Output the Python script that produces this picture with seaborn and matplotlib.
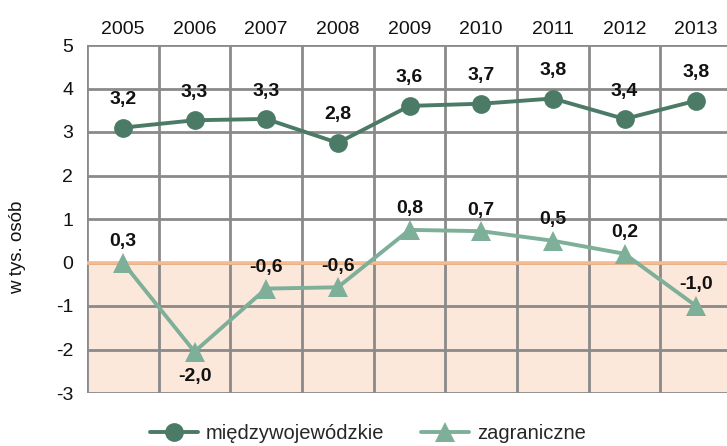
import matplotlib
matplotlib.use("Agg")
import matplotlib.pyplot as plt
import seaborn as sns
import pandas as pd
import numpy as np
from matplotlib.lines import Line2D

years = ["2005", "2006", "2007", "2008", "2009", "2010", "2011", "2012", "2013"]
miedzy_values = [3.1, 3.27, 3.3, 2.75, 3.6, 3.65, 3.77, 3.3, 3.72]
miedzy_labels = ["3,2", "3,3", "3,3", "2,8", "3,6", "3,7", "3,8", "3,4", "3,8"]
zagr_values = [0.0, -2.05, -0.6, -0.57, 0.75, 0.72, 0.5, 0.2, -1.0]
zagr_labels = ["0,3", "-2,0", "-0,6", "-0,6", "0,8", "0,7", "0,5", "0,2", "-1,0"]
yticks = [5, 4, 3, 2, 1, 0, -1, -2, -3]

sns.set_theme(style="white")
plt.rcParams["font.family"] = ["Liberation Sans", "DejaVu Sans"]

dark = "#4B7A66"
light = "#7DAF99"
grid = "#8A8A8A"

fig = plt.figure(figsize=(7.27, 4.46), dpi=100)
ax = fig.add_axes([87 / 727, 53 / 446, 640 / 727, 348 / 446])

ax.axhspan(-3, 0, color="#FCE8DA", zorder=0)

for y in yticks:
    ax.axhline(y, color=grid, lw=2.0, zorder=1)
for i in range(len(years) + 1):
    ax.axvline(i - 0.5, color=grid, lw=2.0, zorder=1)
ax.axhline(0, color="#F8B98C", lw=2.6, zorder=2)

df = pd.DataFrame({
    "x": list(range(len(years))) * 2,
    "v": miedzy_values + zagr_values,
    "s": ["międzywojewódzkie"] * len(years) + ["zagraniczne"] * len(years),
})
sns.lineplot(data=df[df.s == "międzywojewódzkie"], x="x", y="v", ax=ax, color=dark,
             lw=2.8, marker="o", markersize=13.5, markeredgewidth=0, zorder=4, legend=False)
sns.lineplot(data=df[df.s == "zagraniczne"], x="x", y="v", ax=ax, color=light,
             lw=2.8, marker="^", markersize=14, markeredgewidth=0, zorder=4, legend=False)

lfs = 14
for i, (v, t) in enumerate(zip(miedzy_values, miedzy_labels)):
    ax.annotate(t, (i, v), xytext=(0, 14), textcoords="offset points",
                ha="center", va="bottom", fontsize=lfs, fontweight="bold", color="#111111", zorder=5)
zmin = int(np.argmin(zagr_values))
for i, (v, t) in enumerate(zip(zagr_values, zagr_labels)):
    if i == zmin:
        ax.annotate(t, (i, v), xytext=(0, -12), textcoords="offset points",
                    ha="center", va="top", fontsize=lfs, fontweight="bold", color="#111111", zorder=5)
    else:
        ax.annotate(t, (i, v), xytext=(0, 9), textcoords="offset points",
                    ha="center", va="bottom", fontsize=lfs, fontweight="bold", color="#111111", zorder=5)

ax.set_xlim(-0.5, 8.43)
ax.set_ylim(-3, 5)
ax.set_yticks(yticks)
ax.set_yticklabels([str(y) for y in yticks], fontsize=14)
ax.set_xticks(range(len(years)))
ax.set_xticklabels(years, fontsize=14)
ax.xaxis.tick_top()
ax.tick_params(axis="x", length=0, pad=5, colors="#111111")
ax.tick_params(axis="y", length=6, width=2, color=grid, pad=4, colors="#111111")
for side in ["top", "right", "bottom", "left"]:
    ax.spines[side].set_visible(False)
ax.set_xlabel("")
ax.set_ylabel("w tys. osób", fontsize=13.5, color="#111111")
ax.yaxis.set_label_coords(-0.096, 0.42)

handles = [
    Line2D([0], [0], color=dark, lw=2.8, marker="o", markersize=13.5, markeredgewidth=0),
    Line2D([0], [0], color=light, lw=2.8, marker="^", markersize=14, markeredgewidth=0),
]
fig.legend(handles, ["międzywojewódzkie", "zagraniczne"], loc="lower center",
           bbox_to_anchor=(0.506, -0.035), ncol=2, frameon=False, fontsize=14.5,
           handlelength=2.4, columnspacing=1.8, handletextpad=0.4)

fig.savefig("out.png", dpi=100)
